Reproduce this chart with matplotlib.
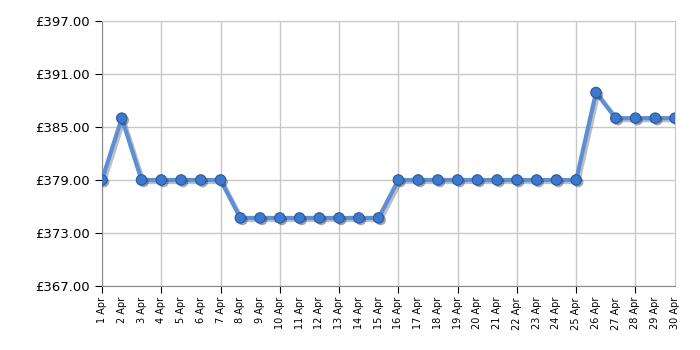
import matplotlib.pyplot as plt
import matplotlib.patheffects as pe

dias = list(range(1, 31))
rotulos = [f"{d} Apr" for d in dias]
precos = [379, 386, 379, 379, 379, 379, 379,
          374.7, 374.7, 374.7, 374.7, 374.7, 374.7, 374.7, 374.7,
          379, 379, 379, 379, 379, 379, 379, 379, 379, 379,
          388.9, 386, 386, 386, 386]
y_ticks = [367, 373, 379, 385, 391, 397]

fig = plt.figure(figsize=(7, 3.5), dpi=100)
ax = fig.add_axes([0.1457, 0.183, 0.8186, 0.757])

sombra = [pe.SimpleLineShadow(offset=(1.5, -1.5), shadow_color='gray', alpha=0.5), pe.Normal()]
ax.plot(dias, precos, color='#5b8fd8', linewidth=3, zorder=3, path_effects=sombra)
ax.plot(dias, precos, linestyle='none', marker='o', markersize=7.5,
        markerfacecolor='#3d78d0', markeredgecolor='#2a5a9a', markeredgewidth=0.8,
        zorder=4, path_effects=[pe.SimplePatchShadow(offset=(1.5, -1.5), alpha=0.4), pe.Normal()])

ax.set_xlim(1, 30)
ax.set_ylim(367, 397)
ax.set_yticks(y_ticks)
ax.set_yticklabels([f"£{v:.2f}" for v in y_ticks], fontsize=9.5)

ax.set_xticks(dias)
ax.set_xticklabels(rotulos, rotation=90, fontsize=7)
ax.tick_params(axis='x', length=5, color='black', pad=3)
ax.tick_params(axis='y', length=5, color='black')

ax.grid(True, color='#c8c8c8', linewidth=1)
ax.set_axisbelow(True)

# so a cada 3 dias tem marca e linha vertical
for i, tick in enumerate(ax.xaxis.get_major_ticks()):
    if i % 3 != 0:
        tick.tick1line.set_visible(False)
        tick.gridline.set_visible(False)

for lado in ['top', 'right']:
    ax.spines[lado].set_color('#c8c8c8')
for lado in ['left', 'bottom']:
    ax.spines[lado].set_color('#888888')

fig.savefig('out.png', dpi=100)
